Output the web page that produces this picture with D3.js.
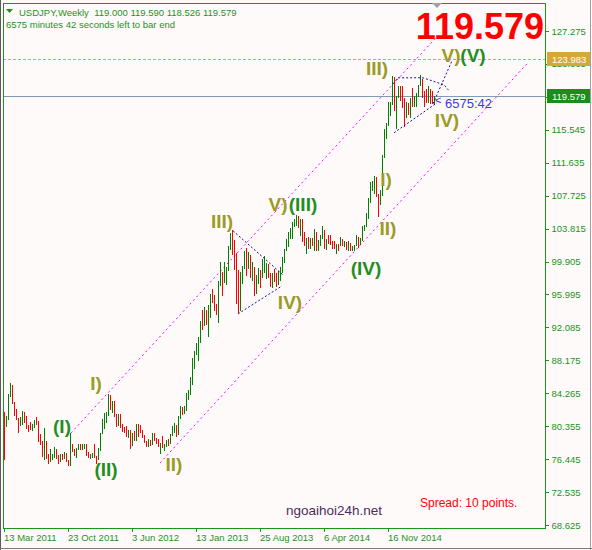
<!DOCTYPE html>
<html><head><meta charset="utf-8">
<script src="https://cdn.jsdelivr.net/npm/d3@7"></script>
<style>
html,body{margin:0;padding:0;background:#fffafa;}
svg{display:block;}
text{font-family:"Liberation Sans",Arial,sans-serif;}
</style></head><body>
<svg id="chart" width="592" height="550"></svg>
<script>
// ---------------- DATA ----------------
const opens = [81.8,80.6,81.5,84.0,84.7,83.1,81.8,81.2,80.6,80.8,81.7,80.8,80.3,80.2,80.0,80.4,80.8,80.6,79.1,78.4,
76.8,78.4,76.8,76.5,76.6,76.8,77.5,76.8,76.5,77.0,76.7,77.0,76.2,75.8,78.1,77.6,76.9,77.7,77.9,77.6,
77.8,78.1,76.9,76.8,76.9,77.0,76.7,76.6,77.6,79.5,81.1,81.7,81.8,83.4,82.4,82.9,81.6,80.9,81.5,80.2,
79.9,79.8,79.2,79.5,78.4,79.5,78.7,80.4,79.8,79.6,79.1,78.5,78.2,78.3,78.2,79.5,78.7,78.3,78.1,78.3,
77.9,78.0,78.6,78.4,79.3,79.8,80.4,79.5,81.3,82.4,82.2,82.4,83.6,84.2,85.9,88.2,89.2,90.1,90.8,92.7,
92.6,93.5,93.4,93.6,96.0,95.2,94.5,94.2,97.5,98.4,98.0,98.1,99.0,101.6,103.2,101.0,100.5,97.5,94.1,97.9,
99.1,101.1,99.3,100.6,98.2,98.9,96.2,97.5,98.7,98.1,99.1,99.4,99.5,98.2,97.4,98.6,97.8,97.4,98.7,99.1,
100.2,101.2,102.4,102.9,103.2,104.1,104.8,104.9,104.2,104.3,102.3,102.0,102.3,101.8,102.5,101.8,103.3,101.3,102.3,102.8,
103.3,101.6,102.4,102.2,102.1,101.8,101.5,101.9,101.8,102.5,102.0,102.1,101.4,102.0,101.3,101.4,101.8,102.6,102.0,102.4,
103.8,104.1,105.1,107.3,109.0,109.3,109.8,107.7,106.9,108.2,112.3,114.6,116.3,117.7,118.6,121.4,118.8,119.5,120.6,120.4,
118.5,117.5,117.7,117.5,119.1,118.8,119.0,119.6,120.8,121.4,120.0,119.2,119.0,120.2,119.0,119.000];
const highs = [82.0,81.6,84.2,85.5,85.2,83.2,82.4,81.3,81.4,82.2,82.1,81.6,80.5,80.8,80.6,81.1,81.5,81.0,79.4,78.6,
80.2,78.6,77.0,77.6,77.0,77.9,77.6,76.9,77.1,77.1,77.3,77.2,76.4,79.5,78.2,77.7,77.8,78.2,78.2,78.3,
78.3,78.2,77.3,77.0,77.2,78.3,76.8,77.8,79.6,81.2,81.9,82.0,84.2,84.0,83.3,83.3,81.8,81.8,81.8,80.6,
80.3,80.4,79.9,79.9,79.6,79.8,80.6,80.6,80.5,79.9,79.3,78.6,78.8,78.7,79.6,79.6,78.9,78.8,78.4,79.2,
78.2,78.7,78.8,79.4,80.4,80.7,80.5,81.6,82.8,82.6,82.8,84.3,84.7,86.2,88.4,89.3,90.2,91.0,92.9,94.1,
94.5,94.1,94.8,96.1,96.7,95.9,94.9,97.6,99.9,98.7,99.9,99.2,101.8,103.3,103.7,102.5,100.9,98.9,98.7,99.4,
101.2,101.5,101.0,100.7,99.9,99.2,98.3,99.1,98.9,100.2,100.6,99.7,99.6,98.5,98.6,99.0,98.6,98.8,99.2,100.4,
101.4,102.6,103.4,103.9,104.6,104.9,105.4,105.3,104.9,104.9,103.4,102.7,102.8,102.7,102.7,103.8,103.4,102.5,103.0,104.1,
103.6,102.6,103.0,103.0,102.3,102.4,102.0,102.0,102.8,102.6,102.3,102.2,102.3,102.1,101.7,101.9,103.1,102.8,102.7,104.1,
104.2,105.7,107.4,109.4,109.5,110.1,109.9,107.9,108.4,112.5,115.6,116.4,118.9,118.9,121.9,121.8,119.6,120.8,120.7,120.7,
119.3,118.9,118.7,119.3,120.5,119.5,119.9,120.9,122.0,121.6,120.1,120.4,120.8,120.4,120.1,119.590];
const lows = [76.3,80.3,81.1,83.8,83.0,81.6,81.1,79.6,80.4,80.5,80.7,80.0,79.7,79.9,79.8,80.2,80.5,78.5,78.1,76.7,
76.3,76.5,75.9,76.1,76.4,76.6,76.5,75.9,76.1,76.3,76.5,76.1,75.6,75.6,77.3,76.8,76.6,77.5,77.5,77.5,
77.7,76.8,76.6,76.5,76.6,76.6,75.9,76.3,77.4,79.4,80.0,80.7,81.6,82.3,81.9,81.5,80.3,80.4,80.1,79.7,
79.6,79.1,79.0,77.7,78.0,78.6,78.6,79.1,79.5,79.0,78.4,77.9,77.9,78.0,78.1,78.6,78.2,77.9,77.1,77.8,
77.4,77.9,78.0,78.3,79.2,79.5,79.1,79.3,81.2,81.7,81.8,82.2,83.5,84.0,85.2,87.1,88.8,88.1,90.2,91.8,
92.2,92.4,90.9,93.2,95.0,94.0,93.6,92.6,97.0,95.8,97.4,97.1,98.8,101.3,100.7,98.9,94.9,93.8,94.0,97.2,
99.0,98.2,99.0,98.0,97.6,95.8,96.1,97.2,96.8,98.0,98.5,97.8,97.9,96.9,96.8,97.5,96.9,97.1,97.6,98.6,
99.7,101.1,101.6,102.6,102.6,104.0,104.1,103.9,102.9,102.2,101.8,100.8,101.4,101.4,101.7,101.2,101.2,101.2,101.8,102.6,
101.4,101.3,102.0,101.9,101.4,101.4,100.8,101.2,101.7,101.7,101.6,101.3,101.2,101.1,101.1,101.1,101.7,101.5,101.9,102.3,
103.5,104.0,105.0,106.9,108.3,107.9,107.6,105.2,106.6,107.7,112.2,114.5,116.0,117.2,118.5,117.8,115.6,119.3,119.0,118.1,
115.9,116.9,117.3,116.9,118.3,118.3,118.3,119.4,120.7,119.3,118.3,118.7,118.7,118.6,118.6,118.526];
const closes = [80.6,81.5,84.0,84.7,83.1,81.8,81.2,80.6,80.8,81.7,80.8,80.3,80.2,80.0,80.4,80.8,80.6,79.1,78.4,76.8,
78.4,76.8,76.5,76.6,76.8,77.5,76.8,76.5,77.0,76.7,77.0,76.2,75.8,78.1,77.6,76.9,77.7,77.9,77.6,77.8,
78.1,76.9,76.8,76.9,77.0,76.7,76.6,77.6,79.5,81.1,81.7,81.8,83.4,82.4,82.9,81.6,80.9,81.5,80.2,79.9,
79.8,79.2,79.5,78.4,79.5,78.7,80.4,79.8,79.6,79.1,78.5,78.2,78.3,78.2,79.5,78.7,78.3,78.1,78.3,77.9,
78.0,78.6,78.4,79.3,79.8,80.4,79.5,81.3,82.4,82.2,82.4,83.6,84.2,85.9,88.2,89.2,90.1,90.8,92.7,92.6,
93.5,93.4,93.6,96.0,95.2,94.5,94.2,97.5,98.4,98.0,98.1,99.0,101.6,103.2,101.0,100.5,97.5,94.1,97.9,99.1,
101.1,99.3,100.6,98.2,98.9,96.2,97.5,98.7,98.1,99.1,99.4,99.5,98.2,97.4,98.6,97.8,97.4,98.7,99.1,100.2,
101.2,102.4,102.9,103.2,104.1,104.8,104.9,104.2,104.3,102.3,102.0,102.3,101.8,102.5,101.8,103.3,101.3,102.3,102.8,103.3,
101.6,102.4,102.2,102.1,101.8,101.5,101.9,101.8,102.5,102.0,102.1,101.4,102.0,101.3,101.4,101.8,102.6,102.0,102.4,103.8,
104.1,105.1,107.3,109.0,109.3,109.8,107.7,106.9,108.2,112.3,114.6,116.3,117.7,118.6,121.4,118.8,119.5,120.6,120.4,118.5,
117.5,117.7,117.5,119.1,118.8,119.0,119.6,120.8,121.4,120.0,119.2,119.0,120.2,119.0,118.9,119.579];

const priceTicks = [68.625,72.535,76.445,80.355,84.265,88.175,92.085,95.995,99.905,103.815,107.725,111.635,115.545,119.455,123.365,127.275];
const dateTickIndex = [0,32,64,96,128,160,192];
const dateTickLabels = ["13 Mar 2011","23 Oct 2011","3 Jun 2012","13 Jan 2013","25 Aug 2013","6 Apr 2014","16 Nov 2014"];

const headerSymbol = "USDJPY,Weekly";
const headerOHLC = "119.000 119.590 118.526 119.579";
const headerTimer = "6575 minutes 42 seconds left to bar end";
const timerShort = "6575:42";
const bidPrice = 119.579;
const targetPrice = 123.983;

// annotations in (bar index, price)
const channelUpper = [[33.5,79.55],[216,126.48]];
const channelLower = [[78,75.99],[261.5,123.39]];
const triangle1Upper = [[114.5,103.55],[139.5,98.32]];
const triangle1Lower = [[117,93.69],[139,97.01]];
const triangle2Upper = [[194.5,121.0],[197,121.72],[209.5,121.72],[220,120.89],[222.5,120.18]];
const triangle2Lower = [[195,115.19],[216.5,118.75]];
const projection = [[214.5,118.64],[224,123.74]];

const waveText = ["(I)","(II)","I)","II)","III)","V)","(III)","IV)","(IV)","I)","II)","III)","IV)","V)","(V)"];
const waveIndex = [29,51,46,85,109,137,149.5,143,181,191,192,186.5,221.5,223.5,234.5];
const wavePrice = [80.27,75.16,85.37,75.75,104.62,106.64,106.64,95.0,99.03,109.6,103.79,122.79,116.61,124.34,124.34];
const waveDegree = ["major","major","minor","minor","minor","minor","major","minor","major","minor","minor","minor","minor","minor","major"];

// ---------------- DRAW ----------------
const svg = d3.select("#chart");
const GREEN_TXT = "#1a941a";
const frameL = 3, frameR = 545, frameT = 3, frameB = 528;

svg.append("rect").attr("x",0).attr("y",0).attr("width",592).attr("height",550).attr("fill","#fffafa");

const x = d3.scaleLinear().domain([0, 270.5]).range([4, 545]);
const y = d3.scaleLinear().domain([68.625, 127.275]).range([525, 31]);

svg.append("defs").append("clipPath").attr("id","plot")
  .append("rect").attr("x",frameL+1).attr("y",frameT+1).attr("width",frameR-frameL-1).attr("height",frameB-frameT-1);

const plot = svg.append("g").attr("clip-path","url(#plot)");

// horizontal lines
plot.append("line").attr("x1",frameL).attr("x2",frameR)
  .attr("y1",Math.round(y(targetPrice))+0.5).attr("y2",Math.round(y(targetPrice))+0.5)
  .attr("stroke","#d9aa3a").attr("stroke-dasharray","3,2");
plot.append("line").attr("x1",frameL).attr("x2",frameR)
  .attr("y1",Math.round(y(bidPrice))+0.5).attr("y2",Math.round(y(bidPrice))+0.5)
  .attr("stroke","#8299b4");

const line = d3.line().x(d=>x(d[0])).y(d=>y(d[1]));

// channel
[channelUpper, channelLower].forEach(pts=>{
  plot.append("path").attr("d", line(pts)).attr("fill","none")
    .attr("stroke","#ff00ff").attr("stroke-width",1).attr("stroke-dasharray","2,3");
});

// candles
const bars = d3.range(opens.length);
plot.append("g").attr("shape-rendering","crispEdges").selectAll("rect").data(bars).join("rect")
  .attr("x", i=>Math.round(x(i)))
  .attr("y", i=>Math.round(y(highs[i])))
  .attr("width",1)
  .attr("height", i=>Math.max(1, Math.round(y(lows[i])) - Math.round(y(highs[i]))))
  .attr("fill", i=> closes[i] >= opens[i] ? "#008000" : "#ff0000");

// triangles / projection
[triangle1Upper, triangle1Lower, triangle2Upper, triangle2Lower, projection].forEach(pts=>{
  plot.append("path").attr("d", line(pts)).attr("fill","none")
    .attr("stroke","#14148c").attr("stroke-width",1).attr("stroke-dasharray","2,2");
});

// timer label near last bar
const lastI = opens.length-1;
plot.append("text").attr("x", x(lastI)+1).attr("y", y(bidPrice)+8)
  .attr("font-size",11).attr("fill","#2828d8").text("<");
plot.append("text").attr("x", x(lastI)+11).attr("y", y(bidPrice)+12)
  .attr("font-size",13).attr("fill","#3a3ae6").text(timerShort);

// wave labels
plot.append("g").selectAll("text").data(waveText).join("text")
  .attr("x",(d,i)=>x(waveIndex[i])).attr("y",(d,i)=>y(wavePrice[i]))
  .attr("text-anchor","middle").attr("dominant-baseline","central")
  .attr("font-size",19).attr("font-weight","bold")
  .attr("fill",(d,i)=> waveDegree[i]==="major" ? "#1f8f1f" : "#9b9b25")
  .text(d=>d);

// frame
svg.append("rect").attr("x",frameL+0.5).attr("y",frameT+0.5).attr("width",frameR-frameL).attr("height",frameB-frameT)
  .attr("fill","none").attr("stroke",GREEN_TXT).attr("shape-rendering","crispEdges");

// right axis
const yAxis = d3.axisRight(y).tickValues(priceTicks).tickSize(3).tickPadding(3).tickFormat(d3.format(".3f"));
const ya = svg.append("g").attr("transform",`translate(${frameR+0.5},0)`).call(yAxis);
ya.select(".domain").remove();
ya.selectAll("line").attr("stroke",GREEN_TXT).attr("shape-rendering","crispEdges");
ya.selectAll("text").attr("fill",GREEN_TXT).attr("font-size","9.5px").attr("font-family","Liberation Sans, Arial, sans-serif");

// bottom date axis
const xa = svg.append("g");
dateTickIndex.forEach((idx,k)=>{
  const px = Math.round(x(idx))+0.5;
  xa.append("line").attr("x1",px).attr("x2",px).attr("y1",frameB).attr("y2",frameB+4).attr("stroke",GREEN_TXT);
  xa.append("text").attr("x",px-0.5).attr("y",frameB+13).attr("font-size","9.5px").attr("fill",GREEN_TXT).text(dateTickLabels[k]);
});

// price boxes
function priceBox(p, bg){
  const cy = Math.round(y(p));
  svg.append("rect").attr("x",frameR+2).attr("y",cy-7).attr("width",44).attr("height",14).attr("fill",bg);
  svg.append("text").attr("x",frameR+7).attr("y",cy+4).attr("font-size","9.5px").attr("fill","#ffffff").text(d3.format(".3f")(p));
}
priceBox(targetPrice,"#d6a83a");
priceBox(bidPrice,"#1c8c1c");

// header
svg.append("path").attr("d","M6,9 L13,9 L9.5,13 Z").attr("fill",GREEN_TXT);
svg.append("text").attr("x",19).attr("y",16).attr("font-size","9.5px").attr("fill",GREEN_TXT)
  .attr("xml:space","preserve").text(headerSymbol + "  " + headerOHLC);
svg.append("text").attr("x",6).attr("y",28).attr("font-size","9.5px").attr("fill",GREEN_TXT).text(headerTimer);

// shift marker
svg.append("path").attr("d",`M${x(lastI)-2},3 L${x(lastI)+8},3 L${x(lastI)+3},8 Z`).attr("fill","#a0a0a0");

// big price
svg.append("text").attr("x",544).attr("y",39).attr("text-anchor","end").attr("font-size","36px").attr("font-weight","bold")
  .attr("fill","#ff0000").text(d3.format(".3f")(bidPrice));

// footer texts
svg.append("text").attr("x",286).attr("y",515).attr("font-size","13.5px").attr("fill","#4a2d5c").text("ngoaihoi24h.net");
svg.append("text").attr("x",420).attr("y",507).attr("font-size","12px").attr("fill","#ff0000").text("Spread: 10 points.");

// window borders
svg.append("line").attr("x1",0.5).attr("x2",0.5).attr("y1",0).attr("y2",550).attr("stroke","#5a5a5a");
svg.append("line").attr("x1",590.5).attr("x2",590.5).attr("y1",0).attr("y2",550).attr("stroke","#a0a0a0");
svg.append("line").attr("x1",0).attr("x2",592).attr("y1",548.5).attr("y2",548.5).attr("stroke","#7a7a7a");
</script>
</body></html>
